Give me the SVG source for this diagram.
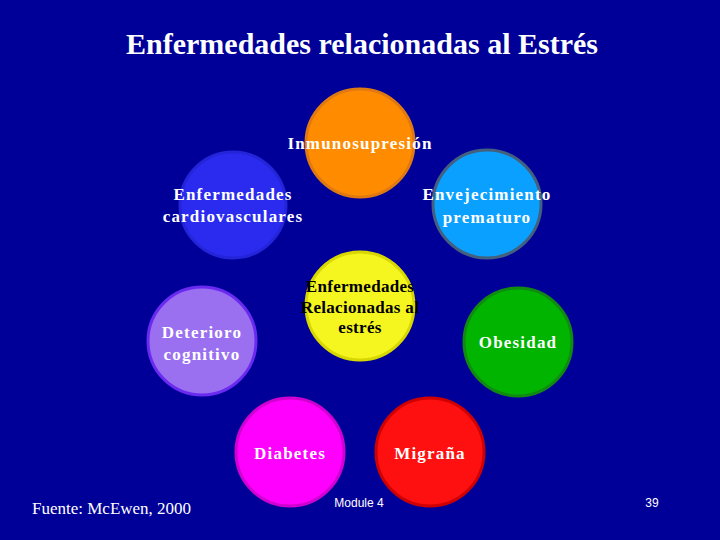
<svg xmlns="http://www.w3.org/2000/svg" width="720" height="540" viewBox="0 0 720 540">
<style>
.t{font-family:"Liberation Serif",serif;font-weight:bold;font-size:17px;fill:#fff;text-anchor:middle;letter-spacing:1.2px}
.k{fill:#000;letter-spacing:0.3px}
.s{font-family:"Liberation Serif",serif;font-size:17px;fill:#fff}
circle{stroke-width:3}
</style>
<rect width="720" height="540" fill="#000099"/>
<text x="362" y="54" text-anchor="middle" font-family="Liberation Serif,serif" font-weight="bold" font-size="30" fill="#fff">Enfermedades relacionadas al Estrés</text>
<g id="connectors"/>
<g id="inmuno"><circle cx="360" cy="143" r="54" fill="#ff8c00" stroke="#e07a10"/><text class="t" x="360" y="149">Inmunosupresión</text></g>
<g id="cardio"><circle cx="233" cy="205" r="53" fill="#2b2bf0" stroke="#2424d8"/><text class="t" x="233" y="200">Enfermedades</text><text class="t" x="233" y="222">cardiovasculares</text></g>
<g id="envej"><circle cx="487" cy="204" r="54" fill="#0aa0ff" stroke="#44607f"/><text class="t" x="487" y="200">Envejecimiento</text><text class="t" x="487" y="223">prematuro</text></g>
<g id="centro"><circle cx="360" cy="306" r="54" fill="#f5f520" stroke="#d8d800"/><text class="t k" x="360" y="292">Enfermedades</text><text class="t k" x="360" y="313">Relacionadas al</text><text class="t k" x="360" y="333">estrés</text></g>
<g id="deterioro"><circle cx="202" cy="341" r="54" fill="#9a70f0" stroke="#6a2af0"/><text class="t" x="202" y="338">Deterioro</text><text class="t" x="202" y="360">cognitivo</text></g>
<g id="obesidad"><circle cx="518" cy="342" r="54" fill="#00b400" stroke="#108a10"/><text class="t" x="518" y="348">Obesidad</text></g>
<g id="diabetes"><circle cx="290" cy="452" r="54" fill="#ff00ff" stroke="#d000d0"/><text class="t" x="290" y="459">Diabetes</text></g>
<g id="migrana"><circle cx="430" cy="452" r="54" fill="#ff1010" stroke="#d00000"/><text class="t" x="430" y="459">Migraña</text></g>
<text class="s" x="32" y="514">Fuente: McEwen, 2000</text>
<text x="359" y="507" text-anchor="middle" font-family="Liberation Sans,sans-serif" font-size="12" fill="#fff">Module 4</text>
<text x="652" y="507" text-anchor="middle" font-family="Liberation Sans,sans-serif" font-size="12" fill="#fff">39</text>
</svg>
